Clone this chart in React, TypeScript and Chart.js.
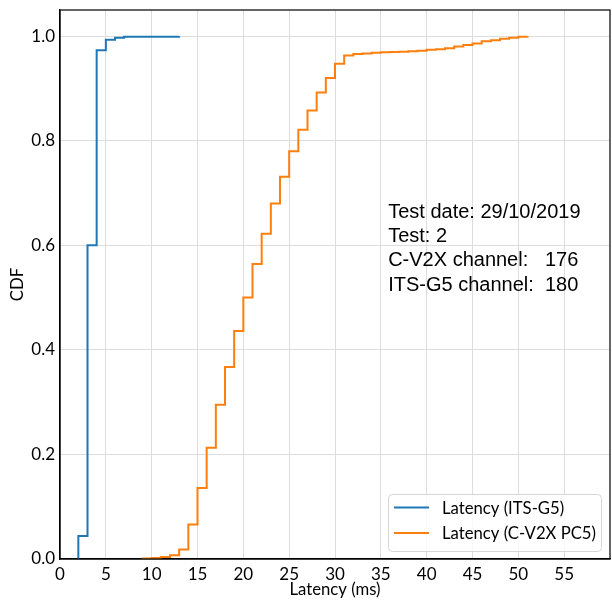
import React, { useEffect, useRef } from 'react';
import { Chart, registerables } from 'chart.js';

Chart.register(...registerables);

// ---- data ----
const seriesLabels = ['Latency (ITS-G5)', 'Latency (C-V2X PC5)'];

const itsLatency = [2, 2, 3, 4, 5, 6, 7, 13];
const itsCdf = [0, 0.044, 0.6, 0.973, 0.993, 0.997, 0.999, 1.0];

const cv2xLatency = [
  9, 9, 10, 11, 12, 13, 14, 15, 16, 17, 18, 19, 20, 21, 22, 23, 24, 25, 26, 27, 28, 29, 30,
  31, 32, 33, 34, 35, 36, 37, 38, 39, 40, 41, 42, 43, 44, 45, 46, 47, 48, 49, 50, 51,
];
const cv2xCdf = [
  0, 0.001, 0.002, 0.004, 0.007, 0.018, 0.066, 0.136, 0.213, 0.295, 0.367, 0.436, 0.5, 0.564,
  0.622, 0.68, 0.731, 0.78, 0.821, 0.858, 0.892, 0.92, 0.947, 0.963, 0.966, 0.967, 0.968,
  0.969, 0.9695, 0.97, 0.971, 0.972, 0.974, 0.975, 0.977, 0.98, 0.983, 0.986, 0.99, 0.992,
  0.995, 0.997, 0.999, 1.0,
];

const xTicks = [0, 5, 10, 15, 20, 25, 30, 35, 40, 45, 50, 55];
const yTicks = [0, 0.2, 0.4, 0.6, 0.8, 1.0];
const xRange = [0, 60];
const yRange = [0, 1.05];

const annotationLines = [
  'Test date: 29/10/2019',
  'Test: 2',
  'C-V2X channel:   176',
  'ITS-G5 channel:  180',
];
const annotationAnchor = [35.8, 0.653];

const xTitle = 'Latency (ms)';
const yTitle = 'CDF';

const colors = ['#1f77b4', '#ff7f0e'];

const LABEL_FONT = 'Lato';

const overlayPlugin = {
  id: 'overlay',
  afterDraw(chart: any) {
    const { ctx, chartArea } = chart;
    const xs = chart.scales.x;
    const ys = chart.scales.y;
    ctx.save();
    // frame (all four spines)
    ctx.strokeStyle = '#000';
    ctx.lineWidth = 1.2;
    ctx.strokeRect(chartArea.left, chartArea.top, chartArea.right - chartArea.left, chartArea.bottom - chartArea.top);

    // annotation text
    ctx.fillStyle = '#000';
    ctx.font = '20px "Liberation Sans", Arial, sans-serif';
    ctx.textAlign = 'left';
    ctx.textBaseline = 'alphabetic';
    const ax = xs.getPixelForValue(annotationAnchor[0]);
    const ay = ys.getPixelForValue(annotationAnchor[1]);
    annotationLines.forEach((t, i) => ctx.fillText(t, ax, ay + i * 24.4));

    // legend
    const bw = 213;
    const bh = 57;
    const bx = chartArea.right - 9 - bw;
    const by = chartArea.bottom - 8 - bh;
    ctx.beginPath();
    (ctx as any).roundRect(bx + 0.5, by + 0.5, bw, bh, 4);
    ctx.fillStyle = 'rgba(255,255,255,0.8)';
    ctx.fill();
    ctx.strokeStyle = '#d6d6d6';
    ctx.lineWidth = 1;
    ctx.stroke();
    ctx.font = `16.7px ${LABEL_FONT}`;
    ctx.textBaseline = 'middle';
    chart.data.datasets.forEach((ds: any, i: number) => {
      const ry = by + 13.5 + i * 25.6;
      ctx.strokeStyle = ds.borderColor;
      ctx.lineWidth = 2;
      ctx.beginPath();
      ctx.moveTo(bx + 6, ry);
      ctx.lineTo(bx + 41, ry);
      ctx.stroke();
      ctx.fillStyle = '#000';
      ctx.fillText(ds.label, bx + 54, ry + 1);
    });
    ctx.restore();
  },
};

export default function App() {
  const ref = useRef<HTMLCanvasElement>(null);
  useEffect(() => {
    if (!ref.current) return;
    const toPts = (xs: number[], ys: number[]) => xs.map((x, i) => ({ x, y: ys[i] }));
    const chart = new Chart(ref.current, {
      type: 'line',
      data: {
        datasets: [
          {
            label: seriesLabels[0],
            data: toPts(itsLatency, itsCdf),
            borderColor: colors[0],
            backgroundColor: colors[0],
            borderWidth: 2,
            pointRadius: 0,
            stepped: 'before',
            fill: false,
          },
          {
            label: seriesLabels[1],
            data: toPts(cv2xLatency, cv2xCdf),
            borderColor: colors[1],
            backgroundColor: colors[1],
            borderWidth: 2,
            pointRadius: 0,
            stepped: 'before',
            fill: false,
          },
        ],
      },
      options: {
        responsive: false,
        animation: false,
        events: [],
        layout: { padding: { top: 10, right: 2, left: 0, bottom: 0 } },
        plugins: { legend: { display: false }, tooltip: { enabled: false } },
        scales: {
          x: {
            type: 'linear',
            min: xRange[0],
            max: xRange[1],
            afterFit: (s: any) => {
              s.height = 41;
              s.paddingLeft = 0;
              s.paddingRight = 0;
            },
            afterBuildTicks: (s: any) => {
              s.ticks = xTicks.map((v) => ({ value: v }));
            },
            grid: { color: '#dddddd', lineWidth: 1, drawTicks: false },
            border: { color: '#000', width: 1.2 },
            ticks: {
              padding: 5,
              color: '#000',
              font: { family: LABEL_FONT, size: 17 },
              callback: (v: any) => String(v),
              maxRotation: 0,
            },
            title: {
              display: true,
              text: xTitle,
              color: '#000',
              font: { family: LABEL_FONT, size: 16.7 },
              padding: { top: 0, bottom: 0 },
            },
          },
          y: {
            type: 'linear',
            min: yRange[0],
            max: yRange[1],
            afterFit: (s: any) => {
              s.width = 60;
              s.paddingTop = 0;
              s.paddingBottom = 0;
            },
            afterBuildTicks: (s: any) => {
              s.ticks = yTicks.map((v) => ({ value: v }));
            },
            grid: { color: '#dddddd', lineWidth: 1, drawTicks: false },
            border: { color: '#000', width: 1.2 },
            ticks: {
              padding: 5,
              color: '#000',
              font: { family: LABEL_FONT, size: 17 },
              callback: (v: any) => Number(v).toFixed(1),
            },
            title: {
              display: true,
              text: yTitle,
              color: '#000',
              font: { family: LABEL_FONT, size: 16.7 },
              padding: { top: 8, bottom: 0 },
            },
          },
        },
      },
      plugins: [overlayPlugin],
    });
    return () => chart.destroy();
  }, []);
  return (
    <div style={{ position: 'absolute', left: 0, top: 0, width: 612, height: 600, background: '#fff' }}>
      <canvas ref={ref} width={612} height={600} style={{ display: 'block' }} />
    </div>
  );
}
